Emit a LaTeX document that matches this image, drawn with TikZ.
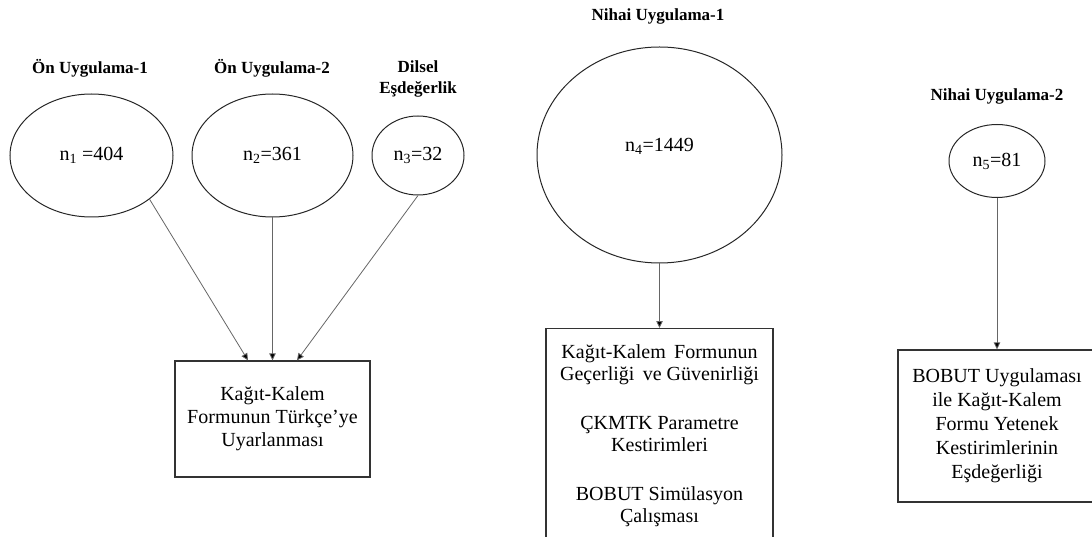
\documentclass[tikz,border=0pt]{standalone}
\usepackage{fontspec}
\setmainfont{Liberation Serif}
\usetikzlibrary{arrows.meta,shapes.geometric,calc}

\begin{document}
\begin{tikzpicture}[x=1pt,y=-1pt,
  sample/.style={ellipse, draw=black!85, line width=1pt, inner sep=0pt,
    font=\fontsize{20}{23}\selectfont},
  heading/.style={font=\fontsize{17}{21}\selectfont\bfseries, align=center, inner sep=0pt},
  stage/.style={rectangle, draw=black!80, line width=1.2pt, align=center, inner sep=0pt,
    font=\fontsize{20}{23}\selectfont},
  flow/.style={draw=black!60, line width=0.8pt, -{Triangle[length=7pt,width=6.5pt,fill=black]}}]

\useasboundingbox (0,0) rectangle (1092,537);
\clip (0,0) rectangle (1092,537);

% pilot and language-equivalence samples
\node[heading] (h1) at (90,68) {Ön Uygulama-1};
\node[heading] (h2) at (272,68) {Ön Uygulama-2};
\node[heading] (h3) at (418,79) {Dilsel\\Eşdeğerlik};

\node[sample, minimum width=163pt, minimum height=123pt] (e1) at (91.5,155.5) {n\textsubscript{1} =404};
\node[sample, minimum width=161pt, minimum height=123pt] (e2) at (272.5,155.5) {n\textsubscript{2}=361};
\node[sample, minimum width=92pt, minimum height=79pt] (e3) at (418,155.5) {n\textsubscript{3}=32};

\node[stage, minimum width=195pt, minimum height=116pt] (b1) at (272.5,419)
  {Kağıt-Kalem\\Formunun Türkçe’ye\\Uyarlanması};

\draw[flow] (e1.-37.5) -- ($(b1.north)+(-24.5,0)$);
\draw[flow] (e2.south) -- (b1.north);
\draw[flow] (e3.south) -- ($(b1.north)+(24.5,0)$);

% final administration 1
\node[heading] (h4) at (658,16) {Nihai Uygulama-1};
\node[sample, minimum width=245pt, minimum height=216pt] (e4) at (659.5,155) {};
\node[font=\fontsize{20}{23}\selectfont, inner sep=0pt] (n4) at ([yshift=9pt]e4.center) {n\textsubscript{4}=1449};

\node[stage, anchor=north, minimum width=227pt, minimum height=240pt] (b2) at (659.5,328) {};
\node[font=\fontsize{20}{22.5}\selectfont, align=center, inner sep=0pt, anchor=north] (t2) at (659.5,344.3)
  {Kağıt-Kalem\, Formunun\\Geçerliği\, ve Güvenirliği\\[26pt]
   ÇKMTK Parametre\\Kestirimleri\\[26pt]
   BOBUT Simülasyon\\Çalışması};

\draw[flow] (e4.south) -- (b2.north);

% final administration 2
\node[heading] (h5) at (997,96) {Nihai Uygulama-2};
\node[sample, minimum width=96pt, minimum height=73pt] (e5) at (997,161) {n\textsubscript{5}=81};

\node[stage, minimum width=198pt, minimum height=152pt, font=\fontsize{20}{24}\selectfont] (b3) at (997,426)
  {BOBUT Uygulaması\\ile Kağıt-Kalem\\Formu Yetenek\\Kestirimlerinin\\Eşdeğerliği};

\draw[flow] (e5.south) -- (b3.north);
\end{tikzpicture}
\end{document}
